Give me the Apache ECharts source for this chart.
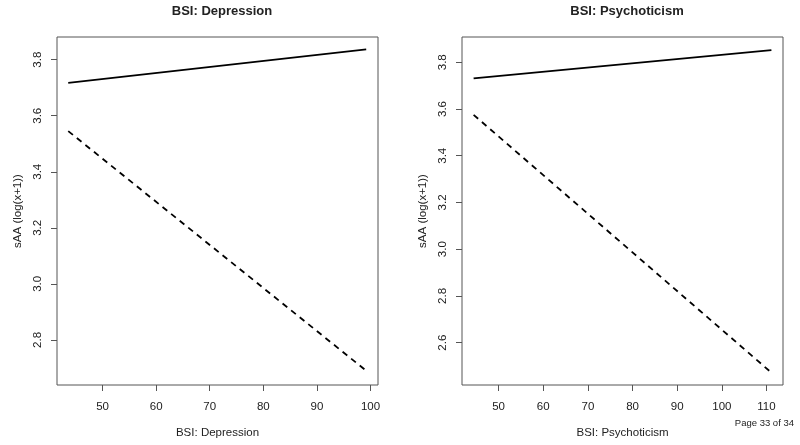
<!DOCTYPE html>
<html>
<head>
<meta charset="utf-8">
<script src="https://cdn.jsdelivr.net/npm/echarts@6/dist/echarts.min.js"></script>
<style>html,body{margin:0;padding:0;background:#fff}#c{width:800px;height:445px}</style>
</head>
<body>
<div id="c"></div>
<script>
// Panel 1: BSI Depression
var depX = [43.6, 99.2];
var depSolid = [3.717, 3.837];
var depDashed = [3.545, 2.69];
var depXTicks = [50, 60, 70, 80, 90, 100];
var depYTicks = [2.8, 3.0, 3.2, 3.4, 3.6, 3.8];
// Panel 2: BSI Psychoticism
var psyX = [44.4, 111.1];
var psySolid = [3.731, 3.852];
var psyDashed = [3.575, 2.472];
var psyXTicks = [50, 60, 70, 80, 90, 100, 110];
var psyYTicks = [2.6, 2.8, 3.0, 3.2, 3.4, 3.6, 3.8];

var titles = ['BSI: Depression', 'BSI: Psychoticism'];
var yName = 'sAA (log(x+1))';
var pageText = 'Page 33 of 34';

var FONT = 'Liberation Sans, Arial, sans-serif';
var TXT = '#222';
var AX = '#555';

function pairs(xs, ys) { return xs.map(function (x, i) { return [x, ys[i]]; }); }

function xAxis(idx, min, max, ticks, name) {
  return {
    type: 'value', gridIndex: idx, min: min, max: max,
    name: name, nameLocation: 'middle', nameGap: 42,
    nameTextStyle: { fontFamily: FONT, fontSize: 11.5, color: TXT },
    splitLine: { show: false },
    axisLine: { show: false },
    axisTick: { show: true, length: 6, inside: false, customValues: ticks, lineStyle: { color: AX, width: 1 } },
    axisLabel: { customValues: ticks, fontFamily: FONT, fontSize: 11.5, color: TXT, margin: 16,
      formatter: function (v) { return String(Math.round(v)); } }
  };
}
function yAxis(idx, min, max, ticks) {
  return {
    type: 'value', gridIndex: idx, min: min, max: max,
    name: yName, nameLocation: 'middle', nameGap: 33,
    nameTextStyle: { fontFamily: FONT, fontSize: 11.5, color: TXT },
    splitLine: { show: false },
    axisLine: { show: false },
    axisTick: { show: true, length: 6, inside: false, customValues: ticks, lineStyle: { color: AX, width: 1 } },
    axisLabel: { customValues: ticks, rotate: 90, fontFamily: FONT, fontSize: 11.5, color: TXT, margin: 13,
      formatter: function (v) { return v.toFixed(1); } }
  };
}
function line(idx, data, dashed) {
  return {
    type: 'line', xAxisIndex: idx, yAxisIndex: idx, data: data,
    symbol: 'none', silent: true, animation: false,
    lineStyle: { color: '#000', width: 1.8, type: dashed ? [6, 5] : 'solid' }
  };
}

var chart = echarts.init(document.getElementById('c'), null, { renderer: 'canvas' });
chart.setOption({
  backgroundColor: '#fff',
  animation: false,
  title: [
    { text: titles[0], left: 217, top: 0, textAlign: 'center',
      textStyle: { fontFamily: FONT, fontSize: 13, fontWeight: 'bold', color: TXT } },
    { text: titles[1], left: 622, top: 0, textAlign: 'center',
      textStyle: { fontFamily: FONT, fontSize: 13, fontWeight: 'bold', color: TXT } }
  ],
  grid: [
    { left: 57, top: 37, width: 321, height: 348, show: true, borderColor: AX, borderWidth: 1, backgroundColor: 'transparent' },
    { left: 462, top: 37, width: 321, height: 348, show: true, borderColor: AX, borderWidth: 1, backgroundColor: 'transparent' }
  ],
  xAxis: [
    xAxis(0, 41.5, 101.4, depXTicks, titles[0]),
    xAxis(1, 41.8, 113.7, psyXTicks, titles[1])
  ],
  yAxis: [
    yAxis(0, 2.639, 3.881, depYTicks),
    yAxis(1, 2.419, 3.908, psyYTicks)
  ],
  series: [
    line(0, pairs(depX, depSolid), false),
    line(0, pairs(depX, depDashed), true),
    line(1, pairs(psyX, psySolid), false),
    line(1, pairs(psyX, psyDashed), true)
  ],
  graphic: [
    { type: 'text', right: 6, top: 418,
      style: { text: pageText, fontFamily: FONT, fontSize: 9.5, fill: TXT } }
  ]
});
</script>
</body>
</html>
